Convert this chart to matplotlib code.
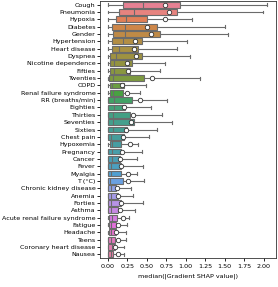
import colorsys

import matplotlib
matplotlib.use("Agg")
import matplotlib.pyplot as plt
import numpy as np

features = ["Cough", "Pneumonia", "Hypoxia", "Diabetes", "Gender", "Hypertension",
            "Heart disease", "Dyspnea", "Nicotine dependence", "Fifties", "Twenties",
            "COPD", "Renal failure syndrome", "RR (breaths/min)", "Eighties", "Thirties",
            "Seventies", "Sixties", "Chest pain", "Hypoxemia", "Pregnancy", "Cancer",
            "Fever", "Myalgia", "T (°C)", "Chronic kidney disease", "Anemia", "Forties",
            "Asthma", "Acute renal failure syndrome", "Fatigue", "Headache", "Teens",
            "Coronary heart disease", "Nausea"]

whislo = [0.0] * len(features)
q1 = [0.19, 0.14, 0.11, 0.05, 0.07, 0.06, 0.06, 0.026, 0.026, 0.026, 0.017, 0.026,
      0.026, 0.004, 0.004, 0.004, 0.004, 0.004, 0.004, 0.026, 0.004, 0.004, 0.004,
      0.004, 0.004, 0.004, 0.004, 0.004, 0.004, 0.017, 0.01, 0.01, 0.004, 0.004, 0.004]
med = [0.45, 0.34, 0.24, 0.22, 0.22, 0.19, 0.145, 0.10, 0.08, 0.08, 0.073, 0.06,
       0.068, 0.08, 0.08, 0.073, 0.073, 0.073, 0.04, 0.05, 0.06, 0.06, 0.047, 0.047,
       0.026, 0.04, 0.04, 0.04, 0.04, 0.05, 0.047, 0.047, 0.04, 0.05, 0.04]
q3 = [0.93, 0.885, 0.50, 0.63, 0.67, 0.44, 0.39, 0.44, 0.31, 0.28, 0.47, 0.21, 0.19,
      0.31, 0.22, 0.29, 0.34, 0.25, 0.21, 0.175, 0.175, 0.16, 0.167, 0.167, 0.19,
      0.10, 0.125, 0.175, 0.125, 0.115, 0.11, 0.10, 0.09, 0.09, 0.07]
whishi = [2.05, 1.99, 1.08, 1.50, 1.55, 1.02, 0.89, 1.06, 0.74, 0.67, 1.18, 0.49,
          0.41, 0.76, 0.55, 0.69, 0.83, 0.63, 0.53, 0.39, 0.44, 0.37, 0.45, 0.37,
          0.46, 0.30, 0.32, 0.45, 0.35, 0.27, 0.25, 0.24, 0.23, 0.21, 0.21]
means = [0.73, 0.79, 0.74, 0.50, 0.56, 0.35, 0.34, 0.36, 0.25, 0.265, 0.57, 0.18,
         0.25, 0.41, 0.21, 0.32, 0.295, 0.23, 0.20, 0.28, 0.18, 0.16, 0.175, 0.265,
         0.26, 0.115, 0.13, 0.175, 0.155, 0.19, 0.125, 0.11, 0.13, 0.095, 0.125]


def husl_like(n, desat=0.75):
    try:
        import seaborn as sns
        return sns.color_palette("husl", n, desat=desat)
    except ImportError:
        cols = []
        for h in np.linspace(0.97, 1.95, n, endpoint=False) % 1:
            r, g, b = colorsys.hls_to_rgb(h, 0.65, 0.7 * desat)
            cols.append((r, g, b))
        return cols


colors = husl_like(len(features))

stats = []
for i, name in enumerate(features):
    stats.append(dict(label=name, whislo=whislo[i], q1=q1[i], med=med[i],
                      q3=q3[i], whishi=whishi[i], mean=means[i], fliers=[]))

fig = plt.figure(figsize=(2.78, 2.87), dpi=100)
ax = fig.add_axes([100 / 278, 29 / 287, 176 / 278, 257 / 287])

pos = np.arange(len(features))
line_col = "0.42"
bp = ax.bxp(stats, positions=pos, vert=False, widths=0.8, patch_artist=True,
            showmeans=True, showfliers=False,
            boxprops=dict(edgecolor=line_col, linewidth=0.8),
            whiskerprops=dict(color=line_col, linewidth=0.8),
            capprops=dict(color=line_col, linewidth=0.8),
            medianprops=dict(color=line_col, linewidth=0.8),
            meanprops=dict(marker="o", markerfacecolor="white",
                           markeredgecolor="0.2", markersize=3.2,
                           markeredgewidth=0.6))
for patch, c in zip(bp["boxes"], colors):
    patch.set_facecolor(c)

fs = 4.6
ax.set_ylim(len(features) - 0.5, -0.5)
ax.set_yticks(pos)
ax.set_yticklabels(features, fontsize=fs)
ax.set_xlim(-0.1, 2.16)
ticks = np.arange(0, 2.01, 0.25)
ax.set_xticks(ticks)
ax.set_xticklabels([f"{t:.2f}" for t in ticks], fontsize=fs)
ax.tick_params(axis="y", length=2, width=0.6, pad=1.2)
ax.tick_params(axis="x", length=2, width=0.6, pad=2.5)
ax.set_xlabel("median(|Gradient SHAP value|)", fontsize=fs, labelpad=3)
for s in ax.spines.values():
    s.set_linewidth(0.6)
    s.set_color("0.2")

fig.savefig("out.png", dpi=100)
